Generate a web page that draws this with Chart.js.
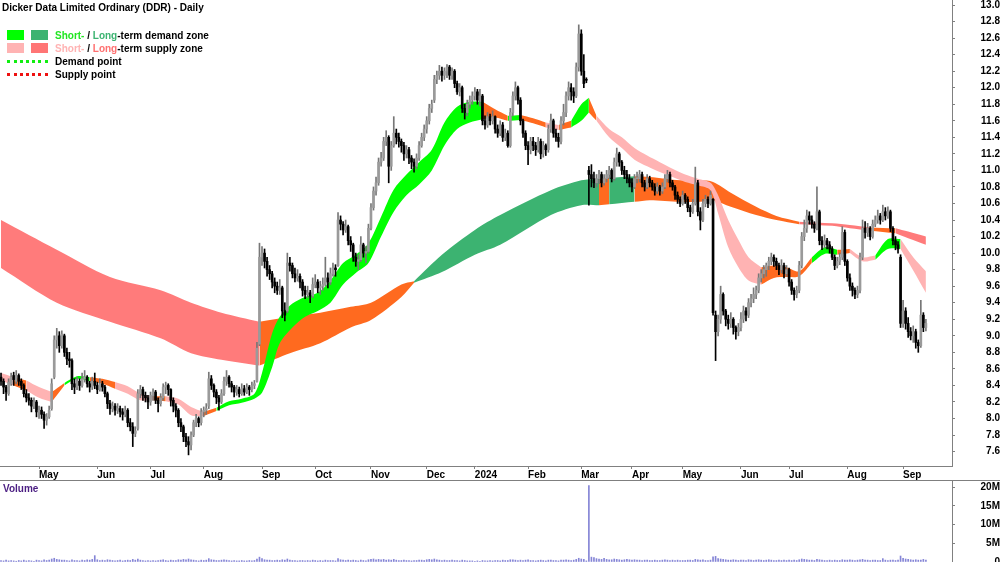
<!DOCTYPE html>
<html>
<head>
<meta charset="utf-8">
<script src="https://cdn.jsdelivr.net/npm/chart.js@4.4.1/dist/chart.umd.min.js"></script>
<style>
  body { margin: 0; width: 1000px; height: 562px; overflow: hidden; background: #fff;
         font-family: 'Liberation Sans', Arial, sans-serif; }
  #priceCanvas { position: absolute; left: 0; top: 0; }
  #volCanvas { position: absolute; left: 0; top: 480px; }
  #sep { position: absolute; left: 0; top: 480px; width: 1000px; height: 1px; background: #7f7f7f; }
  .txt { position: absolute; font-weight: bold; font-size: 10px; white-space: nowrap; line-height: 10px; }
  .sw { position: absolute; width: 17px; height: 10px; }
  .dot { position: absolute; width: 41px; height: 0; border-top: 3px dotted; }
</style>
</head>
<body>
<canvas id="priceCanvas" width="1000" height="480"></canvas>
<div id="sep"></div>
<canvas id="volCanvas" width="1000" height="82"></canvas>

<div class="txt" style="left:2px;top:3px;color:#000">Dicker Data Limited Ordinary (DDR) - Daily</div>
<div class="sw" style="left:7px;top:30px;background:#00ff00"></div>
<div class="sw" style="left:31px;top:30px;background:#3cb371"></div>
<div class="txt" style="left:55px;top:31px;color:#000"><span style="color:#22e622">Short-</span> / <span style="color:#3cb371">Long</span>-term demand zone</div>
<div class="sw" style="left:7px;top:43px;background:#ffb3b3"></div>
<div class="sw" style="left:31px;top:43px;background:#ff7575"></div>
<div class="txt" style="left:55px;top:44px;color:#000"><span style="color:#ffb3b3">Short-</span> / <span style="color:#ff7070">Long</span>-term supply zone</div>
<div class="dot" style="left:7px;top:60px;border-color:#11ee11"></div>
<div class="txt" style="left:55px;top:57px;color:#000">Demand point</div>
<div class="dot" style="left:7px;top:73px;border-color:#ee1111"></div>
<div class="txt" style="left:55px;top:70px;color:#000">Supply point</div>
<div class="txt" style="left:3px;top:484px;color:#4b1e82">Volume</div>

<script>
// month axis (trading-day index of first day of each month)
const monthIdx = [15, 38, 59, 80, 103, 124, 146, 168, 187, 208, 229, 249, 269, 292, 311, 334, 356];
const monthLbl = ['May', 'Jun', 'Jul', 'Aug', 'Sep', 'Oct', 'Nov', 'Dec', '2024', 'Feb', 'Mar', 'Apr', 'May', 'Jun', 'Jul', 'Aug', 'Sep'];

const priceTicks = [7.6, 7.8, 8.0, 8.2, 8.4, 8.6, 8.8, 9.0, 9.2, 9.4, 9.6, 9.8, 10.0, 10.2, 10.4, 10.6,
  10.8, 11.0, 11.2, 11.4, 11.6, 11.8, 12.0, 12.2, 12.4, 12.6, 12.8, 13.0];
const volTicks = [0, 5, 10, 15, 20];

// daily OHLC
const opens = [
  8.50, 8.45, 8.38, 8.30, 8.42, 8.52, 8.45, 8.52, 8.45, 8.40,
  8.30, 8.25, 8.22, 8.15, 8.20, 8.08, 8.10, 8.05, 7.98, 8.02,
  8.12, 8.50, 8.95, 9.00, 8.88, 9.00, 8.80, 8.72, 8.70, 8.42,
  8.38, 8.45, 8.40, 8.48, 8.50, 8.42, 8.38, 8.45, 8.40, 8.35,
  8.42, 8.38, 8.30, 8.18, 8.12, 8.15, 8.10, 8.12, 8.08, 8.05,
  8.10, 7.95, 7.90, 7.82, 7.88, 8.30, 8.35, 8.28, 8.25, 8.20,
  8.28, 8.32, 8.22, 8.18, 8.25, 8.38, 8.40, 8.35, 8.22, 8.15,
  8.10, 7.95, 7.90, 7.78, 7.72, 7.68, 7.80, 7.95, 8.00, 7.95,
  8.08, 8.10, 8.15, 8.48, 8.40, 8.32, 8.25, 8.20, 8.30, 8.45,
  8.50, 8.42, 8.38, 8.32, 8.35, 8.30, 8.36, 8.32, 8.38, 8.35,
  8.40, 8.45, 8.90, 9.95, 10.00, 9.90, 9.80, 9.75, 9.65, 9.60,
  9.55, 9.58, 9.30, 9.30, 9.88, 9.85, 9.75, 9.70, 9.72, 9.65,
  9.55, 9.50, 9.52, 9.48, 9.62, 9.65, 9.58, 9.60, 9.62, 9.70,
  9.65, 9.75, 9.82, 9.85, 10.40, 10.35, 10.28, 10.32, 10.15, 10.10,
  9.95, 9.90, 9.92, 10.10, 10.00, 10.02, 10.30, 10.55, 10.75, 10.85,
  11.10, 11.15, 11.35, 11.40, 11.05, 11.30, 11.45, 11.40, 11.35, 11.30,
  11.20, 11.25, 11.15, 11.10, 11.05, 11.15, 11.30, 11.40, 11.50, 11.60,
  11.75, 11.85, 12.10, 12.15, 12.20, 12.15, 12.20, 12.25, 12.15, 12.20,
  12.05, 11.95, 12.00, 11.75, 11.70, 11.80, 11.85, 11.90, 11.95, 11.85,
  11.90, 11.60, 11.55, 11.65, 11.60, 11.65, 11.50, 11.45, 11.55, 11.40,
  11.45, 11.30, 11.70, 11.90, 12.00, 11.85, 11.60, 11.45, 11.30, 11.25,
  11.35, 11.30, 11.25, 11.35, 11.20, 11.30, 11.25, 11.50, 11.60, 11.45,
  11.40, 11.35, 11.60, 11.70, 11.90, 12.00, 11.95, 11.90, 12.25, 12.65,
  12.20, 12.10, 11.00, 10.95, 10.90, 10.85, 10.90, 10.95, 10.85, 10.90,
  10.95, 11.00, 10.90, 11.10, 11.20, 11.10, 11.00, 10.95, 10.90, 10.85,
  10.80, 10.90, 10.90, 10.95, 10.85, 10.80, 10.90, 10.85, 10.80, 10.75,
  10.80, 10.75, 10.80, 10.90, 10.95, 10.85, 10.80, 10.70, 10.65, 10.60,
  10.70, 10.65, 10.55, 10.50, 10.60, 10.85, 10.50, 10.40, 10.60, 10.65,
  10.60, 10.65, 9.25, 9.05, 9.20, 9.50, 9.30, 9.20, 9.15, 9.20,
  9.10, 9.05, 9.10, 9.20, 9.30, 9.25, 9.40, 9.45, 9.50, 9.55,
  9.70, 9.75, 9.80, 9.85, 9.90, 9.95, 9.90, 9.85, 9.80, 9.85,
  9.75, 9.80, 9.65, 9.55, 9.50, 9.55, 9.85, 10.20, 10.30, 10.45,
  10.40, 10.35, 10.30, 10.50, 10.15, 10.10, 10.15, 10.10, 10.05, 9.95,
  9.85, 9.90, 9.95, 10.25, 9.90, 9.70, 9.60, 9.55, 9.50, 9.55,
  9.95, 10.30, 10.25, 10.30, 10.20, 10.35, 10.40, 10.45, 10.40, 10.50,
  10.45, 10.50, 10.30, 10.15, 10.10, 9.95, 9.15, 9.30, 9.15, 9.05,
  9.00, 9.05, 8.92, 8.88, 9.25, 9.10
];
const highs = [
  8.55, 8.48, 8.40, 8.48, 8.55, 8.56, 8.58, 8.54, 8.48, 8.42,
  8.35, 8.30, 8.25, 8.25, 8.22, 8.15, 8.14, 8.08, 8.06, 8.15,
  8.48, 9.00, 9.09, 9.05, 9.06, 9.02, 8.85, 8.80, 8.72, 8.48,
  8.50, 8.48, 8.55, 8.58, 8.52, 8.45, 8.50, 8.55, 8.44, 8.48,
  8.45, 8.40, 8.32, 8.22, 8.20, 8.18, 8.18, 8.15, 8.12, 8.15,
  8.12, 8.00, 7.95, 7.90, 8.35, 8.40, 8.38, 8.32, 8.28, 8.32,
  8.36, 8.34, 8.25, 8.30, 8.42, 8.44, 8.42, 8.36, 8.25, 8.18,
  8.12, 8.00, 7.92, 7.82, 7.78, 7.84, 7.98, 8.05, 8.02, 8.12,
  8.14, 8.18, 8.56, 8.52, 8.42, 8.35, 8.28, 8.35, 8.50, 8.58,
  8.52, 8.45, 8.40, 8.40, 8.38, 8.42, 8.40, 8.42, 8.40, 8.44,
  8.46, 8.92, 10.12, 10.08, 10.05, 9.95, 9.85, 9.78, 9.70, 9.65,
  9.68, 9.60, 9.40, 10.00, 9.95, 9.88, 9.82, 9.80, 9.75, 9.68,
  9.60, 9.60, 9.55, 9.70, 9.74, 9.68, 9.66, 9.70, 9.95, 9.76,
  9.82, 9.88, 9.86, 10.49, 10.45, 10.38, 10.40, 10.34, 10.20, 10.12,
  10.00, 9.98, 10.20, 10.12, 10.08, 10.35, 10.60, 10.80, 10.92, 11.15,
  11.22, 11.40, 11.48, 11.42, 11.35, 11.65, 11.50, 11.45, 11.38, 11.34,
  11.30, 11.28, 11.18, 11.14, 11.20, 11.35, 11.45, 11.55, 11.65, 11.80,
  11.85, 12.15, 12.20, 12.27, 12.25, 12.24, 12.28, 12.27, 12.24, 12.22,
  12.08, 12.05, 12.02, 11.80, 11.85, 11.90, 11.95, 12.00, 11.98, 11.98,
  11.92, 11.66, 11.70, 11.68, 11.72, 11.66, 11.55, 11.60, 11.58, 11.50,
  11.48, 11.75, 11.95, 12.07, 12.02, 11.88, 11.62, 11.48, 11.35, 11.40,
  11.40, 11.34, 11.40, 11.38, 11.35, 11.32, 11.55, 11.68, 11.62, 11.50,
  11.45, 11.65, 11.80, 11.95, 12.07, 12.05, 12.00, 12.30, 12.76, 12.70,
  12.40, 12.12, 11.05, 11.07, 10.98, 10.95, 11.00, 10.98, 10.95, 11.00,
  11.05, 11.02, 11.15, 11.27, 11.22, 11.12, 11.05, 11.00, 10.95, 10.90,
  10.95, 10.98, 11.00, 10.98, 10.88, 10.95, 10.93, 10.88, 10.84, 10.85,
  10.82, 10.85, 10.95, 11.00, 10.98, 10.88, 10.82, 10.74, 10.68, 10.75,
  10.72, 10.68, 10.58, 10.65, 11.04, 10.88, 10.55, 10.65, 10.70, 10.68,
  10.75, 10.66, 9.30, 9.25, 9.60, 9.52, 9.32, 9.25, 9.28, 9.22,
  9.12, 9.15, 9.28, 9.36, 9.34, 9.45, 9.50, 9.58, 9.60, 9.75,
  9.80, 9.85, 9.88, 9.95, 10.00, 9.98, 9.94, 9.88, 9.92, 9.88,
  9.85, 9.82, 9.68, 9.58, 9.60, 9.90, 10.25, 10.40, 10.52, 10.50,
  10.45, 10.38, 10.80, 10.52, 10.20, 10.22, 10.18, 10.14, 10.08, 9.98,
  9.95, 10.00, 10.32, 10.28, 9.92, 9.75, 9.64, 9.58, 9.60, 10.00,
  10.40, 10.38, 10.36, 10.32, 10.40, 10.45, 10.52, 10.48, 10.58, 10.55,
  10.56, 10.52, 10.32, 10.20, 10.14, 9.98, 9.43, 9.34, 9.22, 9.10,
  9.12, 9.08, 8.95, 9.43, 9.28, 9.20
];
const lows = [
  8.40, 8.30, 8.22, 8.28, 8.40, 8.40, 8.42, 8.40, 8.35, 8.26,
  8.20, 8.16, 8.08, 8.12, 8.02, 8.00, 8.00, 7.88, 7.92, 8.00,
  8.10, 8.48, 8.85, 8.80, 8.85, 8.75, 8.65, 8.62, 8.35, 8.30,
  8.35, 8.34, 8.38, 8.44, 8.38, 8.32, 8.35, 8.36, 8.30, 8.33,
  8.33, 8.26, 8.12, 8.05, 8.08, 8.04, 8.06, 8.02, 7.98, 8.02,
  7.90, 7.85, 7.66, 7.78, 7.86, 8.25, 8.22, 8.20, 8.12, 8.16,
  8.22, 8.18, 8.08, 8.15, 8.22, 8.30, 8.28, 8.15, 8.08, 8.02,
  7.90, 7.84, 7.72, 7.66, 7.56, 7.62, 7.78, 7.90, 7.90, 7.92,
  8.02, 8.05, 8.12, 8.35, 8.26, 8.18, 8.10, 8.18, 8.28, 8.40,
  8.38, 8.32, 8.26, 8.28, 8.26, 8.28, 8.28, 8.30, 8.28, 8.32,
  8.36, 8.44, 8.88, 9.85, 9.82, 9.72, 9.68, 9.58, 9.52, 9.50,
  9.50, 9.22, 9.18, 9.28, 9.78, 9.70, 9.65, 9.66, 9.58, 9.48,
  9.45, 9.46, 9.40, 9.46, 9.58, 9.52, 9.50, 9.55, 9.60, 9.58,
  9.62, 9.72, 9.72, 9.84, 10.28, 10.22, 10.25, 10.10, 10.02, 9.90,
  9.84, 9.80, 9.90, 9.95, 9.88, 10.00, 10.28, 10.52, 10.70, 10.82,
  11.05, 11.12, 11.30, 10.85, 11.00, 11.28, 11.32, 11.28, 11.22, 11.12,
  11.15, 11.08, 11.02, 10.98, 11.02, 11.12, 11.28, 11.36, 11.45, 11.56,
  11.70, 11.82, 12.05, 12.10, 12.08, 12.10, 12.12, 12.10, 12.10, 12.00,
  11.92, 11.90, 11.70, 11.62, 11.66, 11.75, 11.80, 11.85, 11.80, 11.78,
  11.55, 11.50, 11.52, 11.55, 11.56, 11.45, 11.40, 11.42, 11.35, 11.36,
  11.28, 11.28, 11.66, 11.85, 11.80, 11.55, 11.40, 11.25, 11.07, 11.20,
  11.24, 11.18, 11.22, 11.14, 11.16, 11.18, 11.22, 11.46, 11.40, 11.35,
  11.28, 11.32, 11.55, 11.65, 11.85, 11.85, 11.82, 11.88, 12.20, 12.15,
  12.00, 12.06, 10.58, 10.80, 10.79, 10.80, 10.84, 10.80, 10.82, 10.86,
  10.90, 10.86, 10.88, 11.05, 11.05, 10.95, 10.90, 10.85, 10.80, 10.74,
  10.78, 10.85, 10.86, 10.80, 10.75, 10.78, 10.80, 10.76, 10.70, 10.72,
  10.70, 10.72, 10.78, 10.86, 10.80, 10.76, 10.65, 10.60, 10.56, 10.58,
  10.60, 10.50, 10.44, 10.48, 10.58, 10.45, 10.28, 10.38, 10.56, 10.55,
  10.58, 9.25, 8.70, 9.00, 9.15, 9.25, 9.12, 9.08, 9.10, 9.02,
  8.96, 9.00, 9.06, 9.16, 9.18, 9.22, 9.35, 9.40, 9.45, 9.52,
  9.65, 9.70, 9.72, 9.80, 9.86, 9.84, 9.80, 9.74, 9.76, 9.70,
  9.72, 9.60, 9.50, 9.43, 9.46, 9.52, 9.82, 10.15, 10.25, 10.35,
  10.30, 10.25, 10.28, 10.10, 10.04, 10.06, 10.05, 10.00, 9.92, 9.80,
  9.82, 9.86, 9.92, 9.85, 9.66, 9.55, 9.48, 9.45, 9.46, 9.52,
  9.92, 10.18, 10.20, 10.16, 10.18, 10.32, 10.36, 10.35, 10.38, 10.40,
  10.42, 10.26, 10.10, 10.04, 10.00, 9.10, 9.10, 9.08, 8.98, 8.95,
  8.92, 8.85, 8.80, 8.86, 9.05, 9.06
];
const closes = [
  8.45, 8.38, 8.32, 8.44, 8.50, 8.47, 8.52, 8.45, 8.40, 8.30,
  8.25, 8.22, 8.15, 8.20, 8.08, 8.10, 8.05, 7.98, 8.02, 8.10,
  8.42, 8.95, 9.00, 8.88, 9.02, 8.80, 8.72, 8.70, 8.42, 8.38,
  8.45, 8.40, 8.48, 8.50, 8.42, 8.38, 8.45, 8.40, 8.35, 8.42,
  8.38, 8.30, 8.18, 8.12, 8.15, 8.10, 8.12, 8.08, 8.05, 8.10,
  7.95, 7.90, 7.82, 7.85, 8.30, 8.35, 8.28, 8.25, 8.20, 8.28,
  8.32, 8.22, 8.18, 8.25, 8.38, 8.40, 8.35, 8.22, 8.15, 8.10,
  7.95, 7.90, 7.78, 7.72, 7.68, 7.80, 7.95, 8.00, 7.95, 8.08,
  8.10, 8.12, 8.48, 8.40, 8.32, 8.25, 8.20, 8.30, 8.45, 8.50,
  8.42, 8.38, 8.32, 8.35, 8.30, 8.36, 8.32, 8.38, 8.35, 8.40,
  8.42, 8.85, 9.95, 10.00, 9.90, 9.80, 9.75, 9.65, 9.60, 9.55,
  9.58, 9.30, 9.25, 9.88, 9.85, 9.75, 9.70, 9.72, 9.65, 9.55,
  9.50, 9.52, 9.48, 9.62, 9.65, 9.58, 9.60, 9.62, 9.70, 9.65,
  9.75, 9.82, 9.80, 10.40, 10.35, 10.28, 10.32, 10.15, 10.10, 9.95,
  9.90, 9.92, 10.10, 10.00, 10.02, 10.30, 10.55, 10.75, 10.85, 11.10,
  11.15, 11.35, 11.40, 11.05, 11.30, 11.45, 11.40, 11.35, 11.30, 11.20,
  11.25, 11.15, 11.10, 11.05, 11.15, 11.30, 11.40, 11.50, 11.60, 11.75,
  11.80, 12.10, 12.15, 12.20, 12.15, 12.20, 12.25, 12.15, 12.20, 12.05,
  11.95, 12.00, 11.75, 11.70, 11.80, 11.85, 11.90, 11.95, 11.85, 11.90,
  11.60, 11.55, 11.65, 11.60, 11.65, 11.50, 11.45, 11.55, 11.40, 11.45,
  11.30, 11.70, 11.90, 12.00, 11.85, 11.60, 11.45, 11.30, 11.25, 11.35,
  11.30, 11.25, 11.35, 11.20, 11.30, 11.25, 11.50, 11.60, 11.45, 11.40,
  11.35, 11.60, 11.70, 11.90, 12.00, 11.95, 11.90, 12.25, 12.65, 12.20,
  12.05, 12.09, 10.95, 10.90, 10.85, 10.90, 10.95, 10.85, 10.90, 10.95,
  11.00, 10.90, 11.10, 11.20, 11.10, 11.00, 10.95, 10.90, 10.85, 10.80,
  10.90, 10.90, 10.95, 10.85, 10.80, 10.90, 10.85, 10.80, 10.75, 10.80,
  10.75, 10.80, 10.90, 10.95, 10.85, 10.80, 10.70, 10.65, 10.60, 10.70,
  10.65, 10.55, 10.50, 10.60, 10.85, 10.50, 10.40, 10.60, 10.65, 10.60,
  10.70, 9.28, 9.05, 9.20, 9.50, 9.30, 9.20, 9.15, 9.20, 9.10,
  9.05, 9.10, 9.20, 9.30, 9.25, 9.40, 9.45, 9.50, 9.55, 9.70,
  9.75, 9.80, 9.85, 9.90, 9.95, 9.90, 9.85, 9.80, 9.85, 9.75,
  9.80, 9.65, 9.55, 9.50, 9.55, 9.85, 10.20, 10.30, 10.45, 10.40,
  10.35, 10.30, 10.50, 10.15, 10.10, 10.15, 10.10, 10.05, 9.95, 9.85,
  9.90, 9.95, 10.25, 9.90, 9.70, 9.60, 9.55, 9.50, 9.55, 9.95,
  10.30, 10.25, 10.30, 10.20, 10.35, 10.40, 10.45, 10.40, 10.50, 10.45,
  10.50, 10.30, 10.15, 10.10, 10.05, 9.15, 9.30, 9.15, 9.05, 9.00,
  9.05, 8.92, 8.88, 9.25, 9.10, 9.15
];
// daily volume, millions
const volumes = [
  0.4, 0.3, 0.5, 0.3, 0.4, 0.3, 0.2, 0.4, 0.3, 0.5,
  0.3, 0.4, 0.3, 0.2, 0.5, 0.4, 0.3, 0.6, 0.4, 0.5,
  0.8, 1.0, 0.7, 0.6, 0.5, 0.5, 0.4, 0.3, 0.6, 0.4,
  0.4, 0.3, 0.5, 0.4, 0.6, 0.5, 0.7, 1.7, 0.6, 0.4,
  0.5, 0.4, 0.6, 0.5, 0.4, 0.3, 0.4, 0.5, 0.3, 0.4,
  0.5, 0.4, 0.7, 0.5, 0.8, 0.5, 0.4, 0.3, 0.4, 0.3,
  0.4, 0.3, 0.4, 0.5, 0.6, 0.4, 0.3, 0.5, 0.4, 0.4,
  0.6, 0.5, 0.7, 0.6, 0.8, 0.6, 0.5, 0.4, 0.3, 0.5,
  0.4, 0.5, 0.9, 0.6, 0.5, 0.4, 0.4, 0.5, 0.6, 0.5,
  0.4, 0.3, 0.4, 0.3, 0.3, 0.4, 0.3, 0.3, 0.4, 0.3,
  0.4, 0.8, 1.3, 0.9, 0.6, 0.5, 0.5, 0.4, 0.4, 0.5,
  0.4, 0.6, 0.5, 0.8, 0.5, 0.4, 0.4, 0.3, 0.4, 0.4,
  0.3, 0.4, 0.3, 0.5, 0.4, 0.3, 0.4, 0.3, 0.5, 0.4,
  0.4, 0.4, 0.3, 0.9, 0.6, 0.5, 0.4, 0.5, 0.4, 0.5,
  0.4, 0.3, 0.5, 0.4, 0.3, 0.6, 0.7, 0.8, 0.6, 0.7,
  0.6, 0.7, 0.5, 0.6, 0.5, 0.7, 0.5, 0.4, 0.4, 0.5,
  0.4, 0.4, 0.3, 0.4, 0.4, 0.5, 0.5, 0.4, 0.6, 0.7,
  0.6, 0.8, 0.6, 0.5, 0.4, 0.5, 0.4, 0.4, 0.5, 0.4,
  0.4, 0.3, 0.5, 0.4, 0.3, 0.3, 0.3, 0.2, 0.3, 0.2,
  0.4, 0.3, 0.3, 0.4, 0.3, 0.4, 0.4, 0.3, 0.5, 0.4,
  0.4, 0.6, 0.6, 0.5, 0.4, 0.5, 0.4, 0.5, 0.6, 0.4,
  0.4, 0.3, 0.4, 0.5, 0.4, 0.3, 0.5, 0.5, 0.4, 0.4,
  0.3, 0.5, 0.5, 0.6, 0.5, 0.4, 0.5, 0.7, 1.0, 0.8,
  0.7, 0.3, 20.4, 1.3, 1.2, 0.9, 0.8, 0.7, 1.0, 0.7,
  0.6, 0.6, 0.8, 0.7, 0.6, 0.5, 0.6, 0.7, 0.6, 0.5,
  0.6, 0.5, 0.5, 0.4, 0.5, 0.5, 0.4, 0.4, 0.5, 0.4,
  0.4, 0.5, 0.6, 0.5, 0.4, 0.5, 0.4, 0.5, 0.4, 0.4,
  0.4, 0.5, 0.5, 0.4, 0.7, 0.6, 0.5, 0.6, 0.4, 0.4,
  0.5, 1.4, 1.5, 0.9, 0.8, 0.7, 0.6, 0.5, 0.5, 0.6,
  0.5, 0.4, 0.5, 0.5, 0.4, 0.6, 0.5, 0.4, 0.5, 0.6,
  0.5, 0.4, 0.5, 0.6, 0.5, 0.4, 0.4, 0.5, 0.4, 0.5,
  0.4, 0.5, 0.4, 0.5, 0.4, 0.6, 0.8, 0.7, 0.6, 0.5,
  0.5, 0.4, 0.7, 0.6, 0.5, 0.4, 0.4, 0.5, 0.4, 0.5,
  0.4, 0.4, 0.6, 0.5, 0.5, 0.6, 0.5, 0.4, 0.5, 0.6,
  0.7, 0.5, 0.5, 0.4, 0.5, 0.5, 0.4, 0.4, 0.9, 0.5,
  0.4, 0.5, 0.5, 0.4, 0.5, 1.6, 1.0, 0.8, 0.7, 0.6,
  0.5, 0.6, 0.5, 0.5, 0.7, 0.5
];

// short-term zone edges, sampled at trading-day index
const shortIdx = [0, 5, 10, 15, 20, 25, 30, 35, 40, 45, 50, 55, 60, 65, 70, 75, 80, 85, 90, 95, 100, 103, 107, 110,
  115, 120, 125, 130, 135, 140, 145, 150, 155, 160, 165, 170, 175, 180, 185, 190, 195, 200, 205, 210, 215, 220,
  225, 229, 232, 235, 240, 245, 250, 255, 260, 265, 270, 275, 280, 283, 287, 291, 295, 300, 305, 310, 315, 320,
  325, 330, 335, 340, 345, 350, 355, 360, 365];
const shortHi = [8.55, 8.50, 8.46, 8.38, 8.32, 8.43, 8.51, 8.50, 8.48, 8.44, 8.39, 8.30, 8.27, 8.27, 8.24, 8.14,
  8.08, 8.13, 8.21, 8.24, 8.30, 8.55, 9.03, 9.23, 9.39, 9.47, 9.52, 9.67, 9.88, 9.98, 10.12, 10.44, 10.77, 10.95,
  11.10, 11.25, 11.58, 11.77, 11.83, 11.83, 11.74, 11.66, 11.67, 11.63, 11.58, 11.55, 11.60, 11.80, 11.88, 11.66,
  11.50, 11.40, 11.27, 11.18, 11.10, 11.02, 10.95, 10.90, 10.85, 10.70, 10.40, 10.16, 9.95, 9.83, 9.85, 9.83,
  9.78, 9.95, 10.07, 10.04, 10.05, 9.95, 9.97, 10.17, 10.17, 9.95, 9.78];
const shortLo = [8.46, 8.40, 8.34, 8.25, 8.20, 8.40, 8.48, 8.45, 8.42, 8.36, 8.30, 8.22, 8.22, 8.21, 8.17, 8.04,
  8.03, 8.09, 8.16, 8.19, 8.24, 8.31, 8.62, 8.91, 9.10, 9.23, 9.30, 9.40, 9.62, 9.76, 9.88, 10.20, 10.50, 10.70,
  10.83, 11.00, 11.30, 11.50, 11.58, 11.62, 11.64, 11.60, 11.61, 11.57, 11.52, 11.49, 11.52, 11.60, 11.70, 11.60,
  11.40, 11.27, 11.13, 11.05, 10.98, 10.92, 10.86, 10.82, 10.76, 10.48, 10.07, 9.83, 9.67, 9.62, 9.70, 9.71,
  9.72, 9.88, 9.99, 9.98, 10.00, 9.90, 9.92, 10.05, 10.05, 9.79, 9.52];
const shortZones = [[0, 5, 'ss'], [5, 10, 'n'], [10, 20, 'ss'], [20, 25, 'n'], [25, 35, 'sd'], [35, 45, 'n'],
  [45, 60, 'ss'], [60, 65, 'n'], [65, 80, 'ss'], [80, 85, 'n'], [85, 190, 'sd'], [190, 200, 'n'], [200, 205, 'sd'],
  [205, 215, 'n'], [215, 220, 'ss'], [220, 225, 'n'], [225, 232, 'sd'], [232, 235, 'n'], [235, 300, 'ss'],
  [300, 320, 'n'], [320, 330, 'sd'], [330, 335, 'n'], [335, 345, 'ss'], [345, 355, 'sd'], [355, 365, 'ss']];

// long-term zone edges
const longIdx = [0, 22, 43, 63, 75, 87, 102, 114, 126, 138, 146, 158, 163, 174, 187, 197, 217, 229, 236, 240,
  250, 256, 268, 276, 281, 288, 298, 306, 315, 328, 335, 343, 353, 358, 365];
const longHi = [10.40, 10.04, 9.71, 9.55, 9.40, 9.28, 9.17, 9.23, 9.28, 9.35, 9.40, 9.62, 9.66, 9.98, 10.28, 10.46,
  10.76, 10.88, 10.90, 10.91, 10.93, 10.92, 10.88, 10.88, 10.86, 10.73, 10.56, 10.45, 10.38, 10.36, 10.34, 10.31,
  10.30, 10.26, 10.20];
const longLo = [9.82, 9.40, 9.17, 8.97, 8.79, 8.71, 8.64, 8.79, 8.91, 9.10, 9.19, 9.47, 9.64, 9.77, 9.98, 10.10,
  10.46, 10.58, 10.58, 10.59, 10.62, 10.64, 10.62, 10.62, 10.64, 10.56, 10.46, 10.40, 10.35, 10.33, 10.30, 10.27,
  10.24, 10.18, 10.10];
const longZones = [[0, 102, 'ls'], [102, 163, 'n'], [163, 236, 'ld'], [236, 240, 'n'], [240, 250, 'ld'],
  [250, 315, 'n'], [315, 343, 'ls'], [343, 353, 'n'], [353, 365, 'ls']];

const zoneColor = { sd: '#00ff00', ld: '#3cb371', ss: '#ffb3b3', ls: '#ff7b7b', n: '#ff6a1f' };

const xMin = -0.4, xMax = 375.3;

Chart.defaults.font.family = "'Liberation Sans', Arial, sans-serif";
Chart.defaults.font.size = 10;
Chart.defaults.font.weight = 'bold';
Chart.defaults.color = '#000';

function bandSets(idx, hi, lo, zones, order) {
  const sets = [];
  zones.forEach(([a, b, z]) => {
    const top = [], bot = [];
    idx.forEach((v, i) => {
      if (v >= a && v <= b) {
        top.push({ x: v, y: hi[i] });
        bot.push({ x: v, y: lo[i] });
      }
    });
    sets.push({ type: 'line', data: top, fill: '+1', backgroundColor: zoneColor[z],
      borderWidth: 0, borderColor: 'transparent', pointRadius: 0, tension: 0.3, order });
    sets.push({ type: 'line', data: bot, fill: false,
      borderWidth: 0, borderColor: 'transparent', pointRadius: 0, tension: 0.3, order });
  });
  return sets;
}

const days = closes.map((c, i) => i);
const isUp = days.map(i => closes[i] >= opens[i]);

const priceSets = [
  { type: 'bar', data: days.map(i => ({ x: i, y: [opens[i], closes[i]] })),
    backgroundColor: isUp.map(u => u ? '#9a9a9a' : '#000'),
    barThickness: 2, minBarLength: 1, grouped: false, borderWidth: 0, order: 0 },
  { type: 'bar', data: days.map(i => ({ x: i, y: [lows[i], highs[i]] })),
    backgroundColor: isUp.map(u => u ? '#777' : '#000'),
    barThickness: 1, grouped: false, borderWidth: 0, order: 1 },
  ...bandSets(shortIdx, shortHi, shortLo, shortZones, 4),
  ...bandSets(longIdx, longHi, longLo, longZones, 5)
];

const zeroPad = s => { s.paddingTop = 0; s.paddingBottom = 0; s.paddingLeft = 0; s.paddingRight = 0; };

new Chart(document.getElementById('priceCanvas'), {
  type: 'bar',
  data: { datasets: priceSets },
  options: {
    responsive: false,
    animation: false,
    events: [],
    layout: { padding: 0 },
    plugins: { legend: { display: false }, tooltip: { enabled: false } },
    scales: {
      x: {
        type: 'linear', min: xMin, max: xMax, offset: false,
        afterBuildTicks: s => { s.ticks = monthIdx.map(v => ({ value: v })); },
        afterFit: s => { s.height = 14; zeroPad(s); },
        grid: { drawOnChartArea: false, offset: false, tickLength: 3, color: '#808080' },
        border: { color: '#808080' },
        ticks: { align: 'start', autoSkip: false, maxRotation: 0, padding: 0,
          callback: (v, i) => monthLbl[i] }
      },
      y: {
        type: 'linear', position: 'right', min: 7.4256, max: 13.0605,
        afterBuildTicks: s => { s.ticks = priceTicks.map(v => ({ value: v })); },
        afterFit: s => { s.width = 48; zeroPad(s); },
        grid: { drawOnChartArea: false, tickLength: 3, color: '#808080' },
        border: { color: '#808080' },
        ticks: { crossAlign: 'far', padding: 22, callback: v => v.toFixed(1) }
      }
    }
  }
});

new Chart(document.getElementById('volCanvas'), {
  type: 'bar',
  data: {
    datasets: [{
      data: days.map(i => ({ x: i, y: volumes[i] })),
      backgroundColor: '#8585d6', barThickness: 1, borderWidth: 0
    }]
  },
  options: {
    responsive: false,
    animation: false,
    events: [],
    layout: { padding: 0 },
    plugins: { legend: { display: false }, tooltip: { enabled: false } },
    scales: {
      x: { type: 'linear', min: xMin, max: xMax, offset: false, display: false },
      y: {
        type: 'linear', position: 'right', min: 0, max: 21.9,
        afterBuildTicks: s => { s.ticks = volTicks.map(v => ({ value: v })); },
        afterFit: s => { s.width = 48; zeroPad(s); },
        grid: { drawOnChartArea: false, tickLength: 3, color: '#808080' },
        border: { color: '#808080' },
        ticks: { crossAlign: 'far', padding: 22, callback: v => v === 0 ? '0' : v + 'M' }
      }
    }
  }
});
</script>
</body>
</html>
